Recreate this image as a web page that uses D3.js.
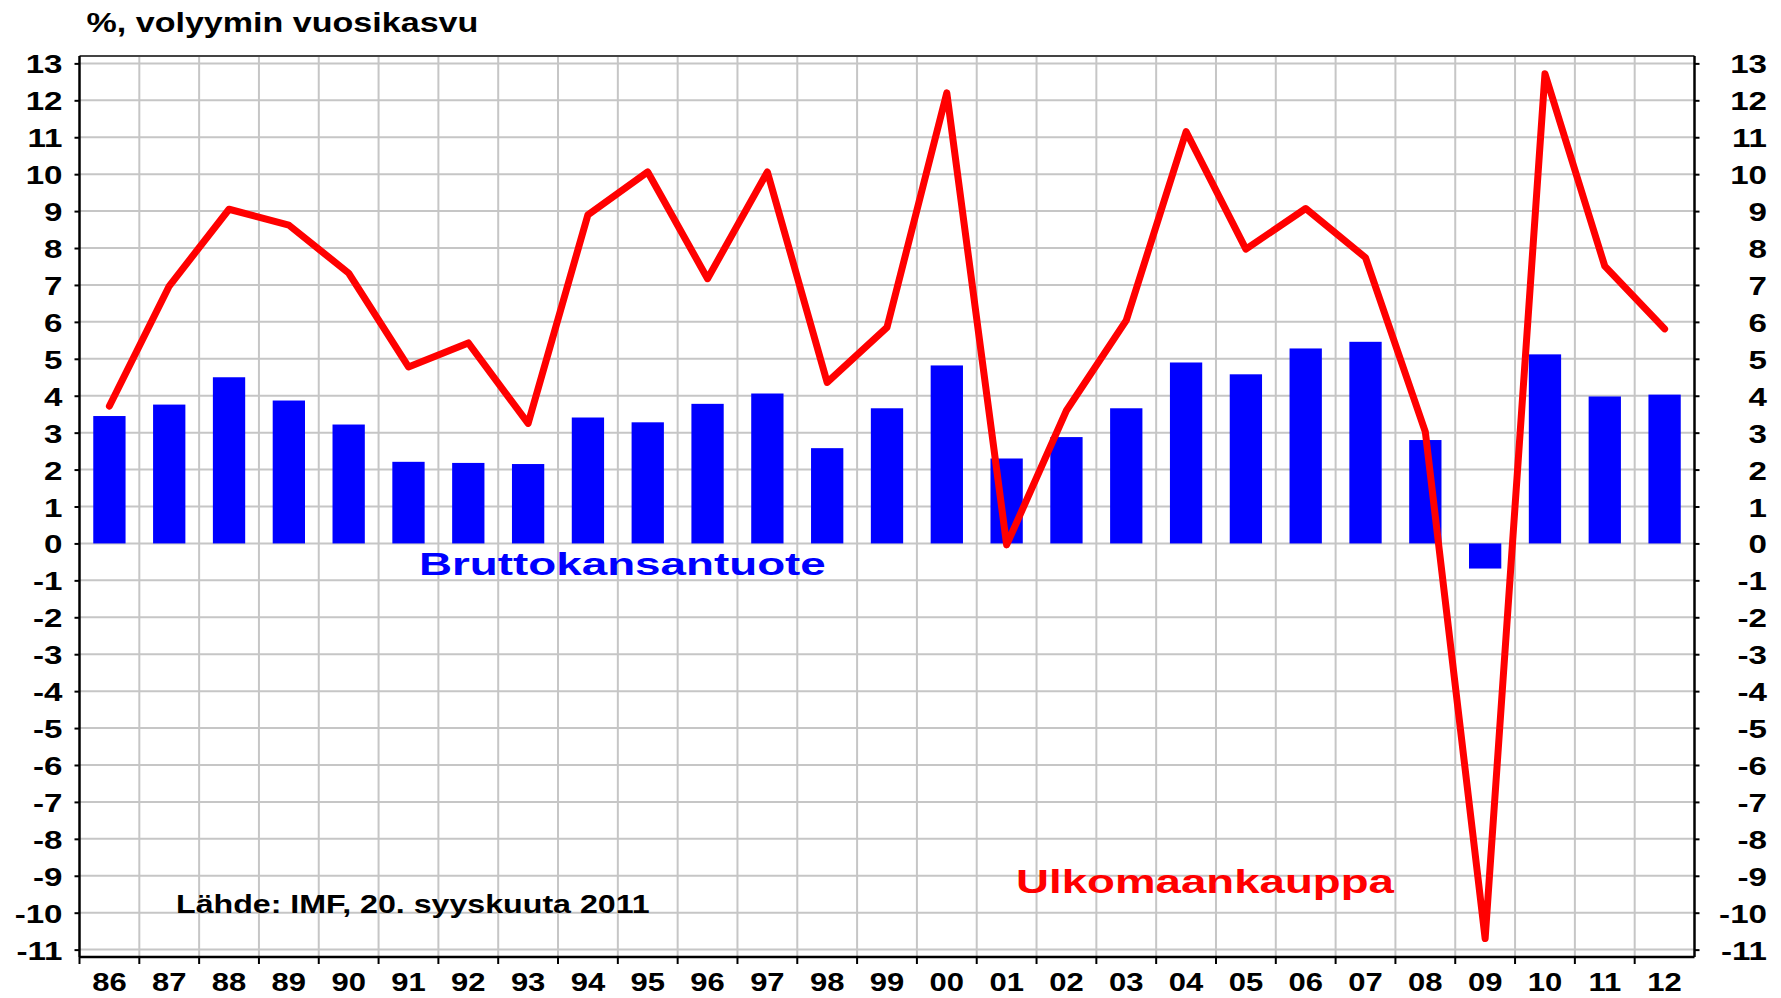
<!DOCTYPE html>
<html>
  <head>
    <meta charset="utf-8" />
    <title>Volyymin vuosikasvu</title>
    <script src="https://d3js.org/d3.v7.min.js"></script>
    <style>
      body { margin: 0; background: #fff; }
      svg text {
        font-family: "Liberation Sans", Arial, sans-serif;
        font-weight: bold;
      }
    </style>
  </head>
  <body>
    <svg width="1781" height="998"></svg>
    <script>
      // Data
      const years = ["86","87","88","89","90","91","92","93","94","95","96","97","98","99",
                     "00","01","02","03","04","05","06","07","08","09","10","11","12"];
      const gdp = [3.45, 3.76, 4.5, 3.87, 3.22, 2.21, 2.18, 2.15, 3.41, 3.28, 3.78, 4.06, 2.58, 3.66,
                   4.82, 2.3, 2.88, 3.66, 4.9, 4.58, 5.28, 5.46, 2.8, -0.68, 5.12, 3.98, 4.03];
      const trade = [3.72, 6.97, 9.05, 8.62, 7.32, 4.78, 5.43, 3.25, 8.9, 10.06, 7.17, 10.06, 4.36, 5.85,
                     12.2, -0.04, 3.6, 6.04, 11.15, 7.97, 9.07, 7.74, 3.02, -10.7, 12.72, 7.51, 5.81];
      const yTicks = d3.range(-11, 14);

      const svg = d3.select("svg");
      const plotL = 79.5, plotR = 1694.5, plotT = 56, plotB = 957;

      const x = d3.scaleBand().domain(years).range([plotL, plotR]).padding(0);
      const y = d3.scaleLinear().domain([-11.2, 13.2]).range([plotB, plotT]);
      const barW = x.bandwidth() * 0.54;

      // Grid
      const grid = svg.append("g").attr("stroke", "#c6c6c6").attr("stroke-width", 2);
      grid.selectAll(".h").data(yTicks).enter().append("line")
          .attr("x1", plotL).attr("x2", plotR)
          .attr("y1", d => y(d)).attr("y2", d => y(d));
      grid.selectAll(".v").data(years.slice(1)).enter().append("line")
          .attr("x1", d => x(d)).attr("x2", d => x(d))
          .attr("y1", plotT).attr("y2", plotB);

      // Bars
      svg.append("g").selectAll("rect").data(gdp).enter().append("rect")
         .attr("x", (d, i) => x(years[i]) + (x.bandwidth() - barW) / 2)
         .attr("width", barW)
         .attr("y", d => y(Math.max(0, d)))
         .attr("height", d => Math.abs(y(d) - y(0)))
         .attr("fill", "#0000ff");

      // Line
      const line = d3.line()
                     .x((d, i) => x(years[i]) + x.bandwidth() / 2)
                     .y(d => y(d));
      svg.append("path")
         .datum(trade)
         .attr("d", line)
         .attr("fill", "none")
         .attr("stroke", "#ff0000")
         .attr("stroke-width", 7)
         .attr("stroke-linejoin", "round")
         .attr("stroke-linecap", "round");

      // Frame
      svg.append("line").attr("x1", plotL).attr("x2", plotR).attr("y1", plotT).attr("y2", plotT)
         .attr("stroke", "#444").attr("stroke-width", 2);
      svg.append("line").attr("x1", plotL).attr("x2", plotR).attr("y1", plotB).attr("y2", plotB)
         .attr("stroke", "#000").attr("stroke-width", 2.5);

      const sx = 1.25;
      const fmt = d => String(d);  // plain hyphen for negatives

      // Left axis
      const axL = svg.append("g")
                     .attr("transform", "translate(" + plotL + ",0)")
                     .call(d3.axisLeft(y).tickValues(yTicks).tickFormat(fmt).tickSize(5).tickSizeOuter(0));
      axL.select(".domain").attr("stroke", "#000").attr("stroke-width", 2.5)
         .attr("d", "M0," + plotT + "V" + plotB);
      axL.selectAll(".tick line").attr("stroke", "#000").attr("stroke-width", 2);
      axL.selectAll(".tick text")
         .attr("x", -17 / sx).attr("dy", "0.36em")
         .attr("transform", "scale(" + sx + ",1)")
         .style("font-size", "26.5px").attr("fill", "#000");

      // Right axis
      const axR = svg.append("g")
                     .attr("transform", "translate(" + plotR + ",0)")
                     .call(d3.axisRight(y).tickValues(yTicks).tickFormat(fmt).tickSize(5).tickSizeOuter(0));
      axR.select(".domain").attr("stroke", "#000").attr("stroke-width", 2.5)
         .attr("d", "M0," + plotT + "V" + plotB);
      axR.selectAll(".tick line").attr("stroke", "#000").attr("stroke-width", 2);
      axR.selectAll(".tick text")
         .attr("x", 72.5 / sx).attr("dy", "0.36em")
         .attr("text-anchor", "end")
         .attr("transform", "scale(" + sx + ",1)")
         .style("font-size", "26.5px").attr("fill", "#000");

      // Bottom ticks at band edges
      svg.append("g").selectAll("line").data(years).enter().append("line")
         .attr("x1", d => x(d)).attr("x2", d => x(d))
         .attr("y1", plotB).attr("y2", plotB + 7)
         .attr("stroke", "#000").attr("stroke-width", 2);
      svg.append("g").selectAll("text").data(years).enter().append("text")
         .attr("transform", d => "translate(" + (x(d) + x.bandwidth() / 2) + ",991) scale(1.24,1)")
         .attr("text-anchor", "middle")
         .style("font-size", "25px")
         .text(d => d);

      // Labels, stretched horizontally to the widths used in the original
      function label(txt, px, py, size, width, color) {
        const t = svg.append("text")
                     .style("font-size", size + "px")
                     .attr("fill", color)
                     .text(txt);
        const w = t.node().getComputedTextLength();
        t.attr("transform", "translate(" + px + "," + py + ") scale(" + (width / w) + ",1)");
      }
      label("%, volyymin vuosikasvu", 86.5, 31.5, 28, 392, "#000");
      label("Bruttokansantuote", 419, 575, 31, 407, "#0000ff");
      label("Ulkomaankauppa", 1016, 892.5, 33, 378, "#ff0000");
      label("Lähde: IMF, 20. syyskuuta 2011", 176, 913, 25.5, 474, "#000");
    </script>
  </body>
</html>
